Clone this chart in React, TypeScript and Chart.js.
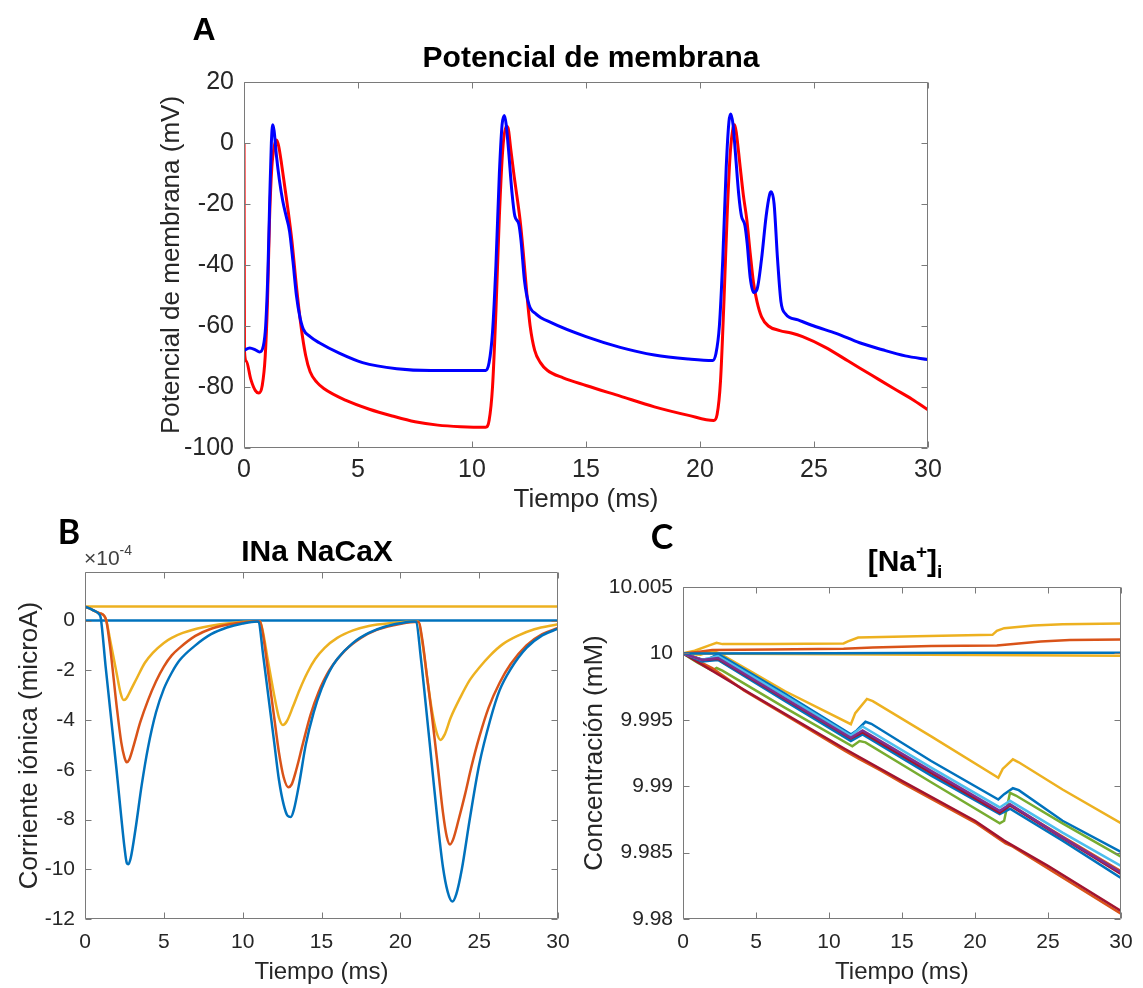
import React, { useEffect, useRef } from "react";
import { Chart, registerables } from "chart.js";
Chart.register(...registerables);

// ---------- tick labels ----------
const xTicks = [0, 5, 10, 15, 20, 25, 30];
const aYTicks = [-100, -80, -60, -40, -20, 0, 20];
const bYTicks = [-12, -10, -8, -6, -4, -2, 0];
const cYTicks = [9.98, 9.985, 9.99, 9.995, 10, 10.005];

// ---------- Panel A: membrane potential (t ms, mV) ----------
const aBlue: [number, number][] = [
  [0, -68], [0.25, -67.2], [0.5, -67.8], [0.68, -68.5], [0.85, -66.5], [0.95, -60], [1.05, -42], [1.13, -18],
  [1.2, 0], [1.26, 6], [1.32, 4], [1.42, -4], [1.55, -12], [1.7, -19], [1.85, -24], [2.0, -29], [2.15, -39],
  [2.3, -50], [2.45, -57], [2.6, -61], [2.9, -63.5], [3.3, -65.5], [4.2, -69], [5.2, -72], [6.7, -74],
  [8.2, -74.6], [10.6, -74.6], [10.75, -72], [10.9, -62], [11.05, -40], [11.2, -10], [11.32, 6], [11.42, 9],
  [11.5, 6], [11.6, -2], [11.75, -16], [11.88, -24], [12.05, -26.5], [12.15, -32], [12.3, -45], [12.5, -53],
  [12.8, -56], [13.5, -59], [15, -63.5], [16.5, -67], [18, -69.5], [19.5, -70.8], [20.55, -71.3], [20.7, -69],
  [20.85, -60], [21.0, -38], [21.15, -8], [21.27, 7], [21.35, 9.5], [21.45, 6], [21.55, -3], [21.7, -17],
  [21.82, -24], [21.97, -27], [22.07, -33], [22.2, -44], [22.35, -49], [22.5, -48], [22.7, -38], [22.9, -24],
  [23.05, -17], [23.12, -16], [23.25, -20], [23.4, -38], [23.55, -52], [23.75, -56], [24.3, -58], [25, -60],
  [26, -62.5], [27, -65.5], [28, -67.8], [29, -69.8], [30, -71],
];
const aRed: [number, number][] = [
  [0, 0], [0.02, -68], [0.1, -71.5], [0.3, -77.5], [0.5, -81.2], [0.65, -82], [0.8, -79.5], [0.93, -70],
  [1.03, -52], [1.12, -25], [1.22, -8], [1.33, -1], [1.43, 1], [1.52, -1], [1.65, -7], [1.8, -15], [1.95, -23],
  [2.1, -32], [2.3, -47], [2.5, -60], [2.7, -69.5], [2.9, -75], [3.2, -78.5], [3.5, -80.5], [4.5, -84.5],
  [5.5, -87.3], [6.5, -89.5], [7.5, -91.4], [8.5, -92.5], [9.5, -93], [10.6, -93.2], [10.75, -91], [10.9, -80],
  [11.05, -55], [11.2, -24], [11.35, -2], [11.5, 5.5], [11.58, 5], [11.7, -2], [11.85, -11], [12.0, -19],
  [12.12, -26], [12.25, -36], [12.4, -49], [12.55, -60], [12.75, -68], [13.0, -72], [13.3, -74.5], [14, -77],
  [15, -79.5], [16.5, -83], [18, -86.5], [19.5, -89.3], [20.6, -91], [20.75, -89], [20.9, -78], [21.05, -52],
  [21.2, -22], [21.33, -3], [21.45, 5], [21.52, 6], [21.6, 3], [21.75, -7], [21.9, -17], [22.05, -25],
  [22.2, -36], [22.35, -46], [22.5, -52], [22.7, -57], [23.0, -60], [23.5, -61.5], [24.0, -62.3], [24.5, -63.5],
  [25.5, -67], [26.5, -71.5], [27.5, -76], [28.5, -80.5], [29.3, -84], [30, -87.5],
];

// ---------- Panel B: INa NaCaX (x1e-4 microA) ----------
const bBlue: [number, number][] = [
  [0, 0.56], [0.5, 0.42], [0.9, 0.25], [1.0, 0.1], [1.3, -1.8], [1.6, -3.6], [2.0, -6.0], [2.3, -7.9],
  [2.5, -9.1], [2.65, -9.75], [2.75, -9.8], [2.9, -9.55], [3.2, -8.4], [3.6, -6.6], [4.0, -5.1], [4.5, -3.7],
  [5.0, -2.75], [5.5, -2.1], [6.0, -1.6], [7.0, -1.0], [8.0, -0.55], [9.0, -0.28], [10.0, -0.12], [10.9, -0.04],
  [11.0, -0.05], [11.3, -1.4], [11.6, -2.9], [12.0, -4.9], [12.3, -6.4], [12.6, -7.4], [12.85, -7.85],
  [13.05, -7.9], [13.25, -7.6], [13.6, -6.5], [14.0, -5.0], [14.5, -3.7], [15.0, -2.75], [15.5, -2.05],
  [16.0, -1.55], [17.0, -0.9], [18.0, -0.5], [19.0, -0.25], [20.0, -0.11], [20.9, -0.04],
  [21.0, -0.05], [21.3, -1.5], [21.6, -3.3], [22.0, -5.8], [22.4, -8.3], [22.7, -9.9], [23.0, -10.9],
  [23.3, -11.3], [23.55, -11.0], [23.9, -10.0], [24.4, -8.0], [25.0, -5.8], [25.7, -4.0], [26.3, -2.8],
  [27.0, -1.95], [28.0, -1.1], [29.0, -0.6], [30.0, -0.33],
];
const bOrange: [number, number][] = [
  [0, 0.56], [0.5, 0.42], [0.9, 0.3], [1.2, 0.2], [1.35, 0.0], [1.6, -1.1], [2.0, -3.4], [2.3, -4.9],
  [2.5, -5.5], [2.65, -5.7], [2.8, -5.6], [3.1, -5.0], [3.5, -4.1], [4.0, -3.2], [4.5, -2.45], [5.0, -1.85],
  [5.5, -1.4], [6.0, -1.1], [7.0, -0.62], [8.0, -0.33], [9.0, -0.17], [10.0, -0.08], [10.9, -0.03],
  [11.1, -0.04], [11.3, -0.6], [11.6, -2.0], [12.0, -3.9], [12.3, -5.3], [12.6, -6.3], [12.9, -6.7],
  [13.1, -6.6], [13.4, -6.0], [13.8, -5.0], [14.3, -3.8], [14.8, -2.9], [15.5, -2.0], [16.5, -1.2],
  [17.5, -0.7], [18.5, -0.38], [19.5, -0.2], [20.9, -0.06],
  [21.15, -0.06], [21.4, -0.8], [21.7, -2.3], [22.0, -3.8], [22.4, -6.0], [22.7, -7.7], [22.95, -8.7],
  [23.15, -9.0], [23.35, -8.8], [23.7, -8.0], [24.1, -7.0], [24.5, -5.9], [25.0, -4.7], [25.6, -3.5],
  [26.3, -2.5], [27.0, -1.75], [28.0, -1.0], [29.0, -0.55], [30.0, -0.3],
];
const bYellow: [number, number][] = [
  [0, 0.56], [0.5, 0.42], [0.9, 0.3], [1.2, 0.2], [1.35, 0.0], [1.6, -0.8], [2.0, -2.1], [2.25, -2.9],
  [2.45, -3.2], [2.6, -3.15], [2.9, -2.8], [3.3, -2.3], [3.8, -1.7], [4.3, -1.3], [5.0, -0.9], [5.5, -0.7],
  [6.2, -0.5], [7.5, -0.27], [9.0, -0.12], [10.9, -0.03],
  [11.1, -0.04], [11.3, -0.5], [11.6, -1.6], [12.0, -3.0], [12.3, -3.9], [12.55, -4.2], [12.8, -4.05],
  [13.2, -3.45], [13.6, -2.8], [14.1, -2.1], [14.6, -1.55], [15.2, -1.1], [16.0, -0.7], [17.0, -0.4],
  [18.0, -0.22], [19.5, -0.1], [20.9, -0.04],
  [21.15, -0.05], [21.4, -0.9], [21.7, -2.3], [22.0, -3.6], [22.3, -4.5], [22.55, -4.8], [22.8, -4.6],
  [23.2, -3.9], [23.8, -3.1], [24.4, -2.4], [25.0, -1.9], [25.7, -1.4], [26.5, -0.95], [27.5, -0.6],
  [28.5, -0.35], [30.0, -0.15],
];
const bYellowFlat: [number, number][] = [[0, 0.56], [30, 0.56]];
const bBlueFlat: [number, number][] = [[0, 0], [30, 0]];

// ---------- Panel C: [Na+]i (mM) ----------
const cBlueFlat: [number, number][] = [[0, 10], [10, 10.00002], [20, 10.00004], [30, 10.00005]];
const cYellowFlat: [number, number][] = [[0, 10], [10, 9.99993], [20, 9.99988], [30, 9.99982]];
const cOrangeUp: [number, number][] = [
  [0, 10], [1, 10.0001], [2, 10.00025], [6, 10.0003], [11, 10.00035], [13, 10.00045], [17, 10.00055],
  [21.5, 10.0006], [23, 10.00075], [24.5, 10.0009], [26.5, 10.001], [30, 10.00105],
];
const cYellowTop: [number, number][] = [
  [0, 10], [0.8, 10.0002], [1.8, 10.0006], [2.3, 10.0008], [2.7, 10.0007], [6, 10.0007], [11, 10.00075],
  [11.3, 10.0009], [12, 10.0012], [16, 10.0013], [21.2, 10.0014], [21.5, 10.0017], [22, 10.0019],
  [24, 10.0021], [26, 10.0022], [30, 10.00225],
];
const cPurple: [number, number][] = [
  [0, 10], [1.3, 9.9995], [2.4, 9.99965], [7, 9.9966], [11.5, 9.99365], [12.3, 9.9942], [17, 9.99115],
  [21.7, 9.98815], [22.4, 9.98865], [26, 9.98615], [30, 9.9835],
];
const cCyan: [number, number][] = [
  [0, 10], [1.3, 9.9995], [2.4, 9.9998], [7, 9.9968], [11.5, 9.9938], [12.3, 9.9945], [17, 9.9914],
  [21.7, 9.9884], [22.4, 9.9889], [26, 9.9865], [30, 9.984],
];
const cDarkRed: [number, number][] = [
  [0, 10], [1.3, 9.9995], [2.4, 9.9996], [7, 9.99655], [11.5, 9.9936], [12.3, 9.99405], [17, 9.991],
  [21.7, 9.988], [22.4, 9.98855], [26, 9.9861], [30, 9.9834],
];
const cBlueLow: [number, number][] = [
  [0, 10], [1.3, 9.9994], [2.4, 9.9995], [7, 9.9964], [11.5, 9.9934], [12.3, 9.9939], [17, 9.9908],
  [21.7, 9.9879], [22.4, 9.9883], [26, 9.9859], [30, 9.9831],
];
const cOrangeMid: [number, number][] = [
  [0, 10], [1.3, 9.9995], [2.4, 9.99955], [7, 9.99655], [11.5, 9.9935], [12.3, 9.9941], [17, 9.991],
  [21.7, 9.98805], [22.4, 9.9886], [26, 9.9862], [30, 9.9836],
];
const cDarkRedLow: [number, number][] = [
  [0, 10], [4.5, 9.99705], [11.1, 9.9928], [15, 9.9904], [20, 9.9874], [22, 9.9859], [25, 9.984], [30, 9.9806],
];
const cOrangeLow: [number, number][] = [
  [0, 10], [2, 9.9989], [4.2, 9.9972], [8, 9.9947], [11.1, 9.99265], [12, 9.9921], [13.5, 9.9912],
  [15.1, 9.9902], [20.1, 9.9872], [22.1, 9.9857], [22.6, 9.98545], [25, 9.9838], [30, 9.9804],
];
const cGreen: [number, number][] = [
  [0, 10], [1, 9.9993], [2, 9.9987], [2.3, 9.9989], [2.7, 9.9987], [7, 9.9959], [11.6, 9.993],
  [12.1, 9.9934], [12.5, 9.9933], [17, 9.9903], [21.7, 9.9872], [22.0, 9.9874], [22.4, 9.9895],
  [22.8, 9.9893], [26, 9.9872], [30, 9.9847],
];
const cBlueDesc: [number, number][] = [
  [0, 10], [1.3, 9.99955], [1.8, 9.9996], [2.4, 9.99995], [2.8, 9.9997], [7, 9.99695], [11.5, 9.9939],
  [11.9, 9.9942], [12.5, 9.99485], [12.9, 9.9947], [17, 9.9919], [21.6, 9.989], [22.0, 9.9894],
  [22.6, 9.98985], [23, 9.9897], [26, 9.9874], [30, 9.98505],
];
const cYellowDesc: [number, number][] = [
  [0, 10], [1.2, 9.9999], [2.0, 10.0002], [2.5, 10.0], [3, 9.99968], [7, 9.99715], [11.5, 9.99467],
  [11.8, 9.9955], [12.6, 9.99657], [13, 9.9964], [17, 9.99375], [21.6, 9.99063], [21.9, 9.9913],
  [22.6, 9.99202], [23, 9.9918], [26, 9.98975], [30, 9.98722],
];

// ---------- styling ----------
const FONT = "'Liberation Sans', Arial, Helvetica, sans-serif";
const TXT = "#262626";
const AXIS = "#7a7a7a";
const M = {
  blue: "#0072BD", orange: "#D95319", yellow: "#EDB120", purple: "#7E2F8E",
  green: "#77AC30", cyan: "#4DBEEE", darkred: "#A2142F",
};

type Part = { t: string; font: string; dy?: number };
type Label = { x: number; y: number; align?: "left" | "center"; color?: string; parts: Part[] };

const matlabBox = {
  id: "matlabBox",
  afterDraw(chart: any, _args: any, opts: any) {
    const { ctx, chartArea } = chart;
    const xs = chart.scales.x;
    const ys = chart.scales.y;
    const L = opts.tickLen ?? 6;
    const l = Math.round(chartArea.left) + 0.5;
    const r = Math.round(chartArea.right) - 0.5;
    const t = Math.round(chartArea.top) + 0.5;
    const b = Math.round(chartArea.bottom) - 0.5;
    ctx.save();
    ctx.strokeStyle = opts.color || AXIS;
    ctx.lineWidth = 1;
    ctx.beginPath();
    ctx.rect(l, t, r - l, b - t);
    for (const tk of xs.ticks) {
      const px = Math.round(xs.getPixelForValue(tk.value)) + 0.5;
      ctx.moveTo(px, b); ctx.lineTo(px, b - L);
      ctx.moveTo(px, t); ctx.lineTo(px, t + L);
    }
    for (const tk of ys.ticks) {
      const py = Math.round(ys.getPixelForValue(tk.value)) + 0.5;
      ctx.moveTo(l, py); ctx.lineTo(l + L, py);
      ctx.moveTo(r, py); ctx.lineTo(r - L, py);
    }
    ctx.stroke();
    ctx.textBaseline = "middle";
    ctx.textAlign = "left";
    for (const lab of (opts.labels || []) as Label[]) {
      let w = 0;
      for (const p of lab.parts) { ctx.font = p.font; w += ctx.measureText(p.t).width; }
      let x = lab.align === "left" ? lab.x : lab.x - w / 2;
      ctx.fillStyle = lab.color || "#000";
      for (const p of lab.parts) {
        ctx.font = p.font;
        ctx.fillText(p.t, x, lab.y + (p.dy || 0));
        x += ctx.measureText(p.t).width;
      }
    }
    ctx.restore();
  },
};

function ds(label: string, pts: [number, number][], color: string, width: number, smooth: boolean) {
  return {
    label,
    data: pts.map(([x, y]) => ({ x, y })),
    borderColor: color,
    backgroundColor: color,
    borderWidth: width,
    pointRadius: 0,
    pointHoverRadius: 0,
    fill: false,
    tension: 0,
    cubicInterpolationMode: smooth ? "monotone" : "default",
  };
}

const fmt = (v: any) => String(Number(Number(v).toFixed(4)));

type Geo = {
  yWidth: number; xHeight: number; pad: { top: number; right: number };
  tickSize: number; xTitleSize: number; yTitleSize: number;
  xTickPad: number; xTitlePadBottom: number; yTitlePadTop: number;
};

function buildConfig(
  datasets: any[], yMin: number, yMax: number, yTicks: number[], yTitle: string,
  g: Geo, labels: Label[]
) {
  return {
    type: "line",
    data: { datasets },
    plugins: [matlabBox],
    options: {
      animation: false,
      responsive: false,
      maintainAspectRatio: false,
      devicePixelRatio: 1,
      events: [],
      layout: { padding: { top: g.pad.top, right: g.pad.right, bottom: 0, left: 0 } },
      plugins: {
        legend: { display: false },
        tooltip: { enabled: false },
        title: { display: false },
        matlabBox: { tickLen: 6, color: AXIS, labels },
      },
      scales: {
        x: {
          type: "linear", min: 0, max: 30,
          afterBuildTicks: (s: any) => { s.ticks = xTicks.map((v) => ({ value: v })); },
          afterFit: (s: any) => { s.height = g.xHeight; },
          grid: { display: false, drawTicks: false },
          border: { display: false },
          ticks: {
            autoSkip: false, maxRotation: 0, minRotation: 0, padding: g.xTickPad,
            color: TXT, font: { family: FONT, size: g.tickSize }, callback: fmt,
          },
          title: {
            display: true, text: "Tiempo (ms)", color: TXT,
            font: { family: FONT, size: g.xTitleSize }, padding: { top: 0, bottom: g.xTitlePadBottom },
          },
        },
        y: {
          type: "linear", min: yMin, max: yMax,
          afterBuildTicks: (s: any) => { s.ticks = yTicks.map((v) => ({ value: v })); },
          afterFit: (s: any) => { s.width = g.yWidth; },
          grid: { display: false, drawTicks: false },
          border: { display: false },
          ticks: {
            autoSkip: false, padding: 10, color: TXT,
            font: { family: FONT, size: g.tickSize }, callback: fmt,
          },
          title: {
            display: true, text: yTitle, color: TXT,
            font: { family: FONT, size: g.yTitleSize }, padding: { top: g.yTitlePadTop, bottom: 0 },
          },
        },
      },
    },
  };
}

function Panel(props: { left: number; top: number; width: number; height: number; build: () => any }) {
  const ref = useRef<HTMLCanvasElement>(null);
  useEffect(() => {
    const chart = new Chart(ref.current as HTMLCanvasElement, props.build());
    return () => chart.destroy();
  }, []);
  const { left, top, width, height } = props;
  return (
    <canvas
      ref={ref}
      width={width}
      height={height}
      style={{ position: "absolute", left, top, width, height, display: "block" }}
    />
  );
}

const buildA = () =>
  buildConfig(
    [ds("Azul", aBlue, "#0000ff", 3, true), ds("Rojo", aRed, "#ff0000", 3, true)],
    -100, 20, aYTicks, "Potencial de membrana (mV)",
    {
      yWidth: 114, xHeight: 77, pad: { top: 82, right: 72 }, tickSize: 25, xTitleSize: 26, yTitleSize: 26,
      xTickPad: 7, xTitlePadBottom: 9.4, yTitlePadTop: 26.4,
    },
    [
      { x: 74, y: 31, parts: [{ t: "A", font: `bold 32px ${FONT}` }] },
      { x: 461, y: 59, parts: [{ t: "Potencial de membrana", font: `bold 30px ${FONT}` }] },
    ]
  );

const buildB = () =>
  buildConfig(
    [
      ds("INa NaCaX 1", bBlue, M.blue, 2.5, true),
      ds("INa NaCaX 2", bOrange, M.orange, 2.5, true),
      ds("INa NaCaX 3", bYellow, M.yellow, 2.5, true),
      ds("INa NaCaX 4", bYellowFlat, M.yellow, 2.5, false),
      ds("INa NaCaX 5", bBlueFlat, M.blue, 2.5, false),
    ],
    -12, 1.95, bYTicks, "Corriente iónica (microA)",
    {
      yWidth: 85, xHeight: 69, pad: { top: 67, right: 52 }, tickSize: 21, xTitleSize: 24, yTitleSize: 26,
      xTickPad: 10.4, xTitlePadBottom: 1.6, yTitlePadTop: 14.4,
    },
    [
      { x: 69, y: 28, parts: [{ t: "B", font: `bold 34px Lato, ${FONT}` }] },
      { x: 317, y: 48, parts: [{ t: "INa NaCaX", font: `bold 30px ${FONT}` }] },
      {
        x: 84, y: 54, align: "left", color: "#404040",
        parts: [{ t: "×10", font: `21px ${FONT}` }, { t: "-4", font: `14px ${FONT}`, dy: -8 }],
      },
    ]
  );

const buildC = () =>
  buildConfig(
    [
      ds("Na 1", cBlueFlat, M.blue, 2.5, false),
      ds("Na 2", cOrangeUp, M.orange, 2.5, false),
      ds("Na 3", cYellowTop, M.yellow, 2.5, false),
      ds("Na 4", cPurple, M.purple, 2.5, false),
      ds("Na 5", cCyan, M.cyan, 2.5, false),
      ds("Na 6", cDarkRed, M.darkred, 2.5, false),
      ds("Na 7", cBlueLow, M.blue, 2.5, false),
      ds("Na 8", cOrangeMid, M.orange, 2.5, false),
      ds("Na 9", cDarkRedLow, M.darkred, 2.5, false),
      ds("Na 10", cOrangeLow, M.orange, 2.5, false),
      ds("Na 11", cGreen, M.green, 2.5, false),
      ds("Na 12", cBlueDesc, M.blue, 2.5, false),
      ds("Na 13", cYellowDesc, M.yellow, 2.5, false),
      ds("Na 14", cYellowFlat, M.yellow, 2.5, false),
    ],
    9.98, 10.005, cYTicks, "Concentración (mM)",
    {
      yWidth: 113, xHeight: 69, pad: { top: 82, right: 16 }, tickSize: 21, xTitleSize: 24, yTitleSize: 26,
      xTickPad: 10.4, xTitlePadBottom: 1.6, yTitlePadTop: 9.4,
    },
    [
      { x: 92, y: 33, parts: [{ t: "C", font: `bold 34px Lato, ${FONT}` }] },
      {
        x: 335, y: 58,
        parts: [
          { t: "[Na", font: `bold 30px ${FONT}` },
          { t: "+", font: `bold 19px ${FONT}`, dy: -10 },
          { t: "]", font: `bold 30px ${FONT}` },
          { t: "i", font: `bold 19px ${FONT}`, dy: 10 },
        ],
      },
    ]
  );

export default function App() {
  return (
    <div style={{ position: "absolute", left: 0, top: 0, width: 1143, height: 988, background: "#fff", overflow: "hidden" }}>
      <Panel left={130} top={0} width={870} height={525} build={buildA} />
      <Panel left={0} top={505} width={610} height={483} build={buildB} />
      <Panel left={570} top={505} width={573} height={483} build={buildC} />
    </div>
  );
}
